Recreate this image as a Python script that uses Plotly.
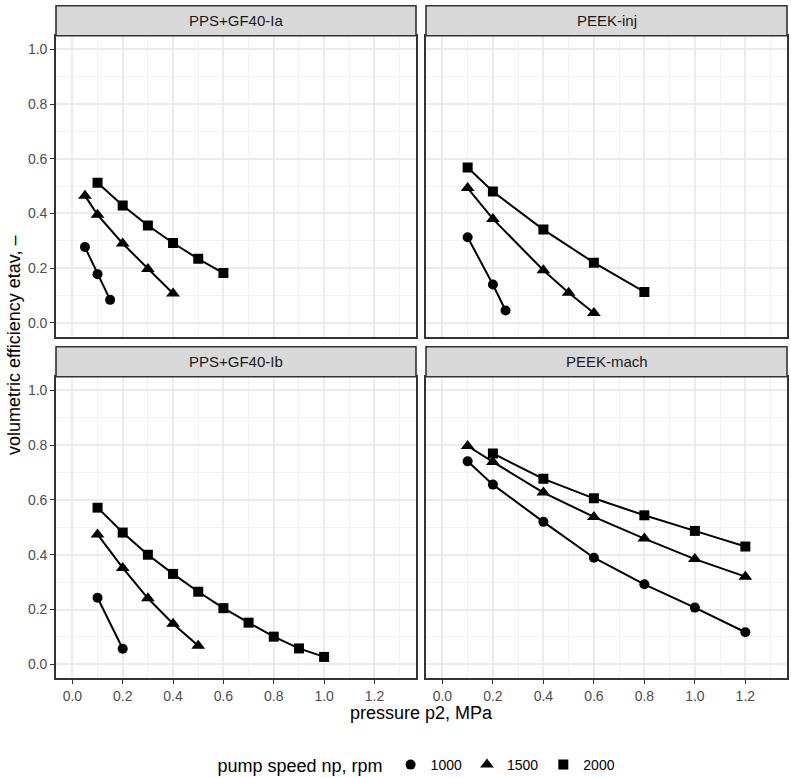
import plotly.graph_objects as go

# ---------------- data ----------------
panels = ["PPS+GF40-Ia", "PEEK-inj", "PPS+GF40-Ib", "PEEK-mach"]
speeds = ["1000", "1500", "2000"]
x_ticks = [0.0, 0.2, 0.4, 0.6, 0.8, 1.0, 1.2]
y_ticks = [0.0, 0.2, 0.4, 0.6, 0.8, 1.0]

# PPS+GF40-Ia
ia_p_1000 = [0.05, 0.10, 0.15]
ia_e_1000 = [0.277, 0.178, 0.084]
ia_p_1500 = [0.05, 0.10, 0.20, 0.30, 0.40]
ia_e_1500 = [0.465, 0.395, 0.290, 0.197, 0.107]
ia_p_2000 = [0.10, 0.20, 0.30, 0.40, 0.50, 0.60]
ia_e_2000 = [0.512, 0.429, 0.356, 0.292, 0.234, 0.182]

# PEEK-inj
inj_p_1000 = [0.10, 0.20, 0.25]
inj_e_1000 = [0.313, 0.140, 0.045]
inj_p_1500 = [0.10, 0.20, 0.40, 0.50, 0.60]
inj_e_1500 = [0.493, 0.380, 0.192, 0.110, 0.036]
inj_p_2000 = [0.10, 0.20, 0.40, 0.60, 0.80]
inj_e_2000 = [0.568, 0.480, 0.341, 0.220, 0.113]

# PPS+GF40-Ib
ib_p_1000 = [0.10, 0.20]
ib_e_1000 = [0.243, 0.057]
ib_p_1500 = [0.10, 0.20, 0.30, 0.40, 0.50]
ib_e_1500 = [0.474, 0.352, 0.241, 0.148, 0.068]
ib_p_2000 = [0.10, 0.20, 0.30, 0.40, 0.50, 0.60, 0.70, 0.80, 0.90, 1.00]
ib_e_2000 = [0.572, 0.481, 0.400, 0.330, 0.265, 0.205, 0.152, 0.101, 0.058, 0.027]

# PEEK-mach
mach_p_1000 = [0.10, 0.20, 0.40, 0.60, 0.80, 1.00, 1.20]
mach_e_1000 = [0.741, 0.656, 0.520, 0.389, 0.292, 0.207, 0.117]
mach_p_1500 = [0.10, 0.20, 0.40, 0.60, 0.80, 1.00, 1.20]
mach_e_1500 = [0.797, 0.739, 0.627, 0.538, 0.459, 0.384, 0.320]
mach_p_2000 = [0.20, 0.40, 0.60, 0.80, 1.00, 1.20]
mach_e_2000 = [0.770, 0.677, 0.606, 0.544, 0.487, 0.430]

series = {
    "PPS+GF40-Ia": [(ia_p_1000, ia_e_1000), (ia_p_1500, ia_e_1500), (ia_p_2000, ia_e_2000)],
    "PEEK-inj": [(inj_p_1000, inj_e_1000), (inj_p_1500, inj_e_1500), (inj_p_2000, inj_e_2000)],
    "PPS+GF40-Ib": [(ib_p_1000, ib_e_1000), (ib_p_1500, ib_e_1500), (ib_p_2000, ib_e_2000)],
    "PEEK-mach": [(mach_p_1000, mach_e_1000), (mach_p_1500, mach_e_1500), (mach_p_2000, mach_e_2000)],
}

# ---------------- layout geometry ----------------
W, H = 791, 778
FONT = "Liberation Sans, Arial, Helvetica, sans-serif"

def px_x(v):
    return v / W

def px_y(v):
    return 1 - v / H

col_dom = [(56, 416), (426, 787)]
row_panel = [(35.7, 336.5), (376.7, 678)]
row_strip = [(5.7, 35.7), (346.7, 376.7)]

symbols = ["circle", "triangle-up", "square"]
sizes = [10, 12, 10]

fig = go.Figure()
layout = dict(
    width=W, height=H,
    margin=dict(l=0, r=0, t=0, b=0, autoexpand=False),
    paper_bgcolor="white", plot_bgcolor="white",
    font=dict(family=FONT, color="#1A1A1A"),
    showlegend=True,
)
shapes = []
annotations = []

for i, name in enumerate(panels):
    r, c = divmod(i, 2)
    idx = i + 1
    xa = "xaxis" if idx == 1 else f"xaxis{idx}"
    ya = "yaxis" if idx == 1 else f"yaxis{idx}"
    xref = "x" if idx == 1 else f"x{idx}"
    yref = "y" if idx == 1 else f"y{idx}"
    x0, x1 = col_dom[c]
    t0, t1 = row_panel[r]
    layout[xa] = dict(
        domain=[px_x(x0), px_x(x1)], anchor=yref, automargin=False,
        range=[-0.065, 1.365], tickvals=x_ticks,
        ticktext=[f"{v:.1f}" for v in x_ticks],
        showticklabels=(r == 1), ticks="outside" if r == 1 else "",
        ticklen=4, tickwidth=1.2, tickcolor="#333333",
        tickfont=dict(size=14, color="#4D4D4D", family=FONT),
        showgrid=True, gridcolor="#EBEBEB", gridwidth=1.6,
        minor=dict(tickvals=[0.1, 0.3, 0.5, 0.7, 0.9, 1.1, 1.3],
                   showgrid=True, gridcolor="#F2F2F2", gridwidth=0.8),
        zeroline=False, showline=True, mirror=True,
        linecolor="#333333", linewidth=1.6,
    )
    layout[ya] = dict(
        domain=[px_y(t1), px_y(t0)], anchor=xref, automargin=False,
        range=[-0.05, 1.05], tickvals=y_ticks,
        ticktext=[f"{v:.1f}" for v in y_ticks],
        showticklabels=(c == 0), ticks="outside" if c == 0 else "",
        ticklen=4, tickwidth=1.2, tickcolor="#333333",
        tickfont=dict(size=14, color="#4D4D4D", family=FONT),
        showgrid=True, gridcolor="#EBEBEB", gridwidth=1.6,
        minor=dict(tickvals=[0.1, 0.3, 0.5, 0.7, 0.9],
                   showgrid=True, gridcolor="#F2F2F2", gridwidth=0.8),
        zeroline=False, showline=True, mirror=True,
        linecolor="#333333", linewidth=1.6,
    )
    s0, s1 = row_strip[r]
    shapes.append(dict(type="rect", xref="paper", yref="paper",
                       x0=px_x(x0), x1=px_x(x1), y0=px_y(s1), y1=px_y(s0),
                       fillcolor="#D9D9D9", line=dict(color="#333333", width=1.6)))
    annotations.append(dict(text=name, xref="paper", yref="paper",
                            x=px_x((x0 + x1) / 2), y=px_y((s0 + s1) / 2),
                            xanchor="center", yanchor="middle", showarrow=False,
                            font=dict(size=15, color="#1A1A1A", family=FONT)))
    for k, (px, ey) in enumerate(series[name]):
        fig.add_trace(go.Scatter(
            x=px, y=ey, mode="lines+markers", xaxis=xref, yaxis=yref,
            line=dict(color="black", width=2),
            marker=dict(symbol=symbols[k], size=sizes[k], color="black"),
            showlegend=False, name=speeds[k],
        ))

# legend-only traces
for k, sp in enumerate(speeds):
    fig.add_trace(go.Scatter(
        x=[None], y=[None], mode="markers", name=sp,
        marker=dict(symbol=symbols[k], size=sizes[k], color="black"),
        showlegend=True,
    ))

annotations.append(dict(text="pressure p2, MPa", xref="paper", yref="paper",
                        x=px_x(421.5), y=px_y(713), xanchor="center", yanchor="middle",
                        showarrow=False, font=dict(size=18, color="black", family=FONT)))
annotations.append(dict(text="volumetric efficiency etav, \u2013", xref="paper", yref="paper",
                        x=px_x(14), y=px_y(346), xanchor="center", yanchor="middle",
                        textangle=-90, showarrow=False,
                        font=dict(size=18, color="black", family=FONT)))

layout["shapes"] = shapes
layout["annotations"] = annotations
layout["legend"] = dict(
    orientation="h", x=px_x(418), y=px_y(766), xanchor="center", yanchor="middle",
    title=dict(text="pump speed np, rpm", font=dict(size=18, color="black", family=FONT), side="left"),
    font=dict(size=14, color="black", family=FONT),
    itemwidth=30, bgcolor="rgba(0,0,0,0)",
)
fig.update_layout(**layout)
fig.write_html(
    "out.html",
    config={"displayModeBar": False},
    post_script="document.body.style.margin='0';document.body.style.padding='0';"
                "document.documentElement.style.overflow='hidden';",
)
